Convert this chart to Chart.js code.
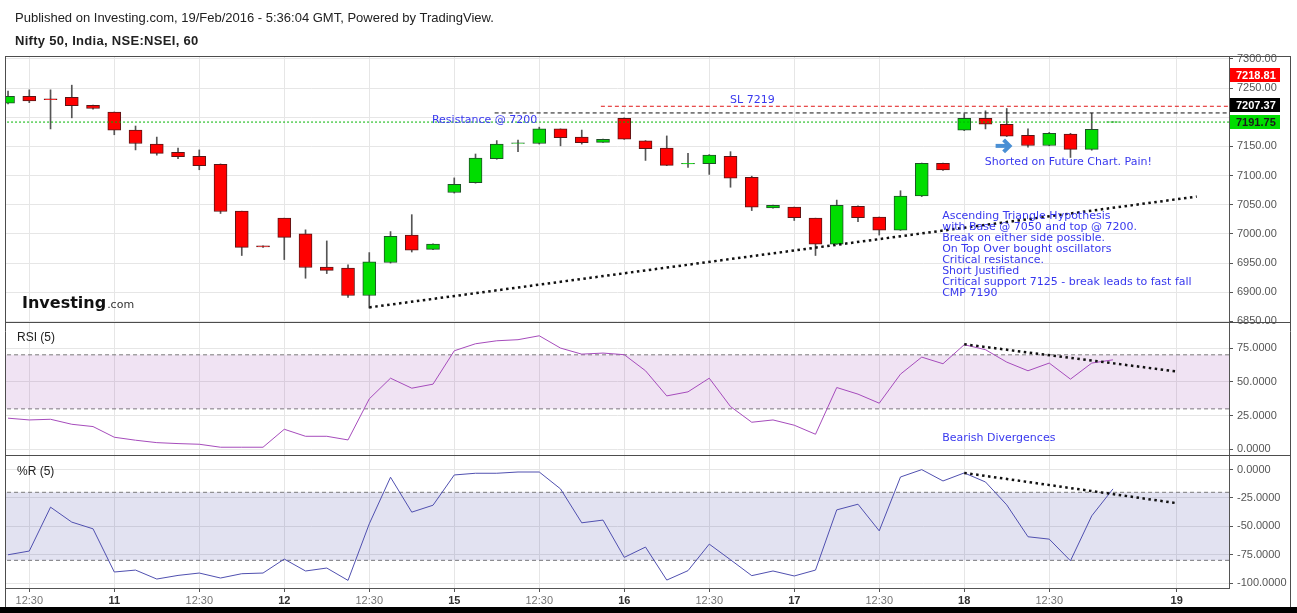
<!DOCTYPE html>
<html>
<head>
<meta charset="utf-8">
<title>Nifty 50, India, NSE:NSEI, 60</title>
<script src="https://cdn.jsdelivr.net/npm/chart.js@4.4.1/dist/chart.umd.min.js"></script>
<style>
  html, body { margin: 0; padding: 0; background: #fff; }
  #wrap { position: relative; width: 1297px; height: 613px; overflow: hidden; }
  #chart { position: absolute; left: 0; top: 0; }
  .hdr { position: absolute; left: 15px; font-family: "Liberation Sans", Arial, sans-serif; color: #222; white-space: nowrap; line-height: 16px; }
  #pub { top: 10px; font-size: 13px; }
  #ttl { top: 33px; font-size: 13px; font-weight: bold; letter-spacing: 0.3px; }
</style>
</head>
<body>
<div id="wrap">
  <canvas id="chart" width="1297" height="613"></canvas>
  <div class="hdr" id="pub">Published on Investing.com, 19/Feb/2016 - 5:36:04 GMT, Powered by TradingView.</div>
  <div class="hdr" id="ttl">Nifty 50, India, NSE:NSEI, 60</div>
</div>
<script>
// hourly candles, bar 0 = 12:30 on the 10th, 8 slots per session
const opens  = [7224, 7236, 7231.5, 7234, 7220.5, 7209, 7178, 7154, 7140, 7133, 7119.5, 7039, 6979.5, 7027, 7000, 6943, 6941.5, 6894.5, 6951, 6998, 6973.5,
                7071, 7088, 7129, 7155, 7155, 7180, 7166, 7157, 7198, 7159.5, 7147, 7120, 7120.5, 7133, 7097, 7044.5, 7046, 7027, 6982.5, 7047.5,
                7029, 7006.5, 7065, 7121, 7178, 7198, 7188, 7169, 7151.5, 7171, 7145, 7191.5];
const highs  = [7245, 7247, 7247, 7255, 7221, 7209, 7185, 7166, 7147, 7144, 7120, 7039, 6979.5, 7027, 7007, 6988, 6947, 6968, 7004, 7033, 6983,
                7096, 7137, 7160, 7161, 7183, 7180, 7178, 7162.5, 7199, 7160, 7168, 7138, 7136, 7141, 7099, 7049.5, 7046, 7027, 7058, 7048,
                7029, 7074, 7121.5, 7121.5, 7206, 7211, 7215, 7180, 7174, 7172.5, 7207, 7192];
const lows   = [7223, 7225, 7180, 7199, 7214, 7170, 7144, 7135, 7129, 7110, 7035, 6963, 6977, 6956, 6924, 6932, 6891, 6873, 6950, 6969, 6973,
                7070, 7087, 7128, 7141, 7154, 7151, 7154, 7157, 7162, 7126, 7117, 7114, 7102, 7080, 7040, 7044, 7023, 6963, 6982, 7021,
                6998, 7006, 7064, 7109, 7177, 7180, 7167, 7148.5, 7151, 7131, 7143.5, 7191.5];
const closes = [7236, 7228, 7230, 7220, 7215, 7178, 7155, 7138, 7132.5, 7117, 7038.5, 6977, 6977.5, 6994, 6942.5, 6937.5, 6894.5, 6952, 6996, 6972, 6982.5,
                7085, 7130, 7154, 7156, 7180, 7165, 7156.5, 7162, 7162.5, 7146, 7117.5, 7121, 7135, 7095.5, 7046, 7049, 7028, 6982.5, 7049, 7028,
                7006.5, 7065, 7121, 7109.5, 7198, 7188, 7167.5, 7151.5, 7172.5, 7145, 7179.5, 7192];
const rsiVals = [23.1, 21.8, 22.3, 18.6, 16.9, 9.0, 6.8, 5.0, 4.3, 3.8, 1.6, 1.6, 1.6, 14.9, 9.7, 9.7, 7.0, 37.4, 52.7, 45.3, 48.3,
                 73.0, 78.2, 80.4, 81.2, 84.1, 75.0, 70.5, 71.3, 70.1, 58.2, 39.6, 42.6, 52.7, 31.7, 20.1, 21.8, 17.9, 11.2, 45.8, 40.9,
                 34.2, 55.7, 68.3, 63.4, 77.5, 73.8, 64.6, 58.2, 63.9, 52.0, 63.9, 66.3];
const wrVals  = [-75.1, -71.8, -33.1, -46.3, -52.2, -90.3, -88.6, -96.5, -93.3, -91.2, -95.6, -91.8, -91.2, -78.9, -89.4, -86.8, -97.7, -47.8, -6.7, -37.5, -31.4,
                 -4.7, -3.2, -3.2, -2.1, -2.1, -17.0, -46.9, -44.5, -77.4, -68.3, -97.4, -89.1, -65.7, -79.5, -93.5, -89.4, -93.8, -88.6, -35.5, -30.5,
                 -54.0, -6.5, 0, -10.0, -2.9, -10.9, -31.1, -59.2, -61.3, -80.4, -40.8, -17.0];
const firstBar = -1;

const timeTickPos    = [0, 4, 8, 12, 16, 20, 24, 28, 32, 36, 40, 44, 48, 54];
const timeTickLabels = ['12:30', '11', '12:30', '12', '12:30', '15', '12:30', '16', '12:30', '17', '12:30', '18', '12:30', '19'];
const priceTicks = [6850, 6900, 6950, 7000, 7050, 7100, 7150, 7200, 7250, 7300];
const rsiTicks   = [0, 25, 50, 75];
const wrTicks    = [0, -25, -50, -75, -100];
const rsiBand = [70, 30];
const wrBand  = [-20, -80];

// drawn levels and trend lines (bar index, value)
const lastPrice = 7191.75;
const resistanceLevel = 7207.37, resistanceFrom = 21.9;
const stopLevel = 7218.81, stopFrom = 26.9;
const priceTrend = [[16, 6874], [54.94, 7064]];
const rsiTrend   = [[44, 77.8], [54, 57.7]];
const wrTrend    = [[44, -2.9], [54, -29.6]];

const bars = opens.map((_, i) => firstBar + i);
const isUp = opens.map((o, i) => closes[i] >= o);
const pts = (vals) => vals.map((v, i) => ({ x: bars[i], y: v }));
const seg = (pair) => pair.map(p => ({ x: p[0], y: p[1] }));
const level = (v, from) => [{ x: from, y: v }, { x: 70, y: v }];
const lineBase = { type: 'line', pointRadius: 0, borderWidth: 1, tension: 0, fill: false };
const labelAt = v => { const k = timeTickPos.indexOf(v); return k < 0 ? '' : timeTickLabels[k]; };
const isDay = c => c.tick && labelAt(c.tick.value) !== '12:30';

const blue = '#3838ee';
const notes = [
  { x: 18.95, y: 7195.4, text: 'Resistance @ 7200', align: 'left' },
  { x: 34.03, y: 7229.6, text: 'SL 7219', align: 'center' },
  { x: 44.97, y: 7122.3, text: 'Shorted on Future Chart. Pain!', align: 'left' }
];
const blockLines = ['Ascending Triangle Hypothesis', 'with Base @ 7050 and top @ 7200.', 'Break on either side possible.',
  'On Top Over bought oscillators', 'Critical resistance.', 'Short Justified',
  'Critical support 7125 - break leads to fast fall', 'CMP 7190'];
const priceTags = [
  { value: stopLevel, shift: -31, bg: '#ff0000', fg: '#ffffff' },
  { value: resistanceLevel, shift: -8, bg: '#000000', fg: '#ffffff' },
  { value: lastPrice, shift: 0, bg: '#00dd00', fg: '#1a1a1a' }
];

const overlay = {
  id: 'overlay',
  beforeDraw(chart) {
    const c = chart.ctx;
    c.save(); c.fillStyle = '#fff'; c.fillRect(0, 0, chart.width, chart.height); c.restore();
  },
  afterDraw(chart) {
    const c = chart.ctx, a = chart.chartArea, s = chart.scales;
    const X = v => s.x.getPixelForValue(v);
    const P = v => s.y.getPixelForValue(v);
    const frameR = a.right + s.y.width;
    const bottom = chart.height - 6;
    c.save();

    // frame and pane separators
    c.strokeStyle = '#4d4d4d'; c.lineWidth = 1;
    c.beginPath();
    [a.top, s.y.bottom, s.rsi.bottom].forEach(yy => {
      const py = Math.round(yy) + 0.5; c.moveTo(a.left, py); c.lineTo(frameR, py);
    });
    c.moveTo(Math.round(a.left) - 0.5, a.top); c.lineTo(Math.round(a.left) - 0.5, bottom);
    c.moveTo(Math.round(frameR) + 0.5, a.top); c.lineTo(Math.round(frameR) + 0.5, bottom);
    c.stroke();
    c.fillStyle = '#000'; c.fillRect(0, bottom, chart.width, 6);

    // price tags on the axis (tick labels squeezed between tags are hidden)
    c.textBaseline = 'middle'; c.textAlign = 'left';
    c.font = 'bold 11px "Liberation Sans"';
    const tagY = priceTags.map(t => Math.round(P(t.value) + t.shift));
    for (let i = 1; i < tagY.length; i++) {
      if (tagY[i] - tagY[i - 1] < 28) {
        c.fillStyle = '#fff'; c.fillRect(a.right + 1, tagY[i - 1] + 7, 58, tagY[i] - tagY[i - 1] - 14);
      }
    }
    priceTags.forEach((t, i) => {
      const py = tagY[i];
      c.fillStyle = t.bg; c.fillRect(a.right + 1, py - 7, 50, 14);
      c.fillStyle = t.fg; c.fillText(t.value.toFixed(2), a.right + 7, py + 0.5);
    });

    // notes
    c.font = '11px "DejaVu Sans"'; c.fillStyle = blue;
    notes.forEach(n => { c.textAlign = n.align; c.fillText(n.text, X(n.x), P(n.y)); });
    c.textAlign = 'left';
    blockLines.forEach((t, i) => c.fillText(t, X(42.96), P(7029.8) + i * 11));
    c.fillText('Bearish Divergences', X(42.96), s.rsi.getPixelForValue(8.5));

    // arrow
    const ax = X(45.9), ay = P(7150.9);
    c.strokeStyle = '#4a8fd4'; c.lineWidth = 4; c.lineCap = 'butt'; c.lineJoin = 'miter';
    c.beginPath(); c.moveTo(ax - 9, ay); c.lineTo(ax + 4, ay); c.stroke();
    c.beginPath(); c.moveTo(ax - 1, ay - 6); c.lineTo(ax + 5, ay); c.lineTo(ax - 1, ay + 6); c.stroke();

    // pane titles
    c.fillStyle = '#222'; c.font = '12px "Liberation Sans"';
    c.fillText('RSI (5)', a.left + 11, s.rsi.top + 16);
    c.fillText('%R (5)', a.left + 11, s.wr.top + 17);

    // logo
    c.textBaseline = 'alphabetic';
    c.font = 'bold 16px "DejaVu Sans"'; c.fillStyle = '#111';
    c.fillText('Investing', a.left + 16, s.y.bottom - 14);
    const w = c.measureText('Investing').width;
    c.font = '11px "DejaVu Sans"'; c.fillStyle = '#333';
    c.fillText('.com', a.left + 17 + w, s.y.bottom - 14);
    c.restore();
  }
};

const yAxis = (extra) => Object.assign({
  position: 'right', stack: 'panes',
  grid: { color: '#e6e6e6', tickLength: 4, tickColor: '#555' },
  border: { color: '#555' },
  afterFit: sc => { sc.width = 61; }
}, extra);
const yTicks = (fmt) => ({ color: '#555', padding: 4, font: { size: 11 }, autoSkip: false, callback: fmt });

Chart.defaults.font.family = '"Liberation Sans", Arial, sans-serif';

new Chart(document.getElementById('chart'), {
  type: 'bar',
  data: {
    datasets: [
      { type: 'bar', data: opens.map((o, i) => ({ x: bars[i], y: [lows[i], highs[i]] })), yAxisID: 'y',
        backgroundColor: '#555', barThickness: 1, grouped: false, order: 9 },
      { type: 'bar', data: opens.map((o, i) => ({ x: bars[i], y: [o, closes[i]] })), yAxisID: 'y',
        backgroundColor: isUp.map(u => u ? '#00dd00' : '#ff0000'),
        borderColor: isUp.map(u => u ? '#1f4f28' : '#5a1616'),
        borderWidth: 1, borderSkipped: false, barThickness: 13, grouped: false, order: 8 },
      { ...lineBase, data: level(lastPrice, -5), yAxisID: 'y', borderColor: '#00b400', borderDash: [2, 2], order: 3 },
      { ...lineBase, data: level(resistanceLevel, resistanceFrom), yAxisID: 'y', borderColor: '#111', borderDash: [4, 3], order: 3 },
      { ...lineBase, data: level(stopLevel, stopFrom), yAxisID: 'y', borderColor: '#e01818', borderDash: [4, 3], order: 3 },
      { ...lineBase, data: seg(priceTrend), yAxisID: 'y', borderColor: '#111', borderWidth: 2.5, borderDash: [2.5, 3.5], order: 1 },

      { ...lineBase, data: level(rsiBand[0], -5), yAxisID: 'rsi', borderColor: '#7a7a7a', borderDash: [4, 3],
        fill: '+1', backgroundColor: 'rgba(150, 60, 170, 0.14)', order: 7 },
      { ...lineBase, data: level(rsiBand[1], -5), yAxisID: 'rsi', borderColor: '#7a7a7a', borderDash: [4, 3], order: 7 },
      { ...lineBase, data: pts(rsiVals), yAxisID: 'rsi', borderColor: '#a64cbc', order: 2 },
      { ...lineBase, data: seg(rsiTrend), yAxisID: 'rsi', borderColor: '#111', borderWidth: 2.5, borderDash: [2.5, 3.5], order: 1 },

      { ...lineBase, data: level(wrBand[0], -5), yAxisID: 'wr', borderColor: '#7a7a7a', borderDash: [4, 3],
        fill: '+1', backgroundColor: 'rgba(60, 60, 160, 0.15)', order: 7 },
      { ...lineBase, data: level(wrBand[1], -5), yAxisID: 'wr', borderColor: '#7a7a7a', borderDash: [4, 3], order: 7 },
      { ...lineBase, data: pts(wrVals), yAxisID: 'wr', borderColor: '#5050b0', order: 2 },
      { ...lineBase, data: seg(wrTrend), yAxisID: 'wr', borderColor: '#111', borderWidth: 2.5, borderDash: [2.5, 3.5], order: 1 }
    ]
  },
  options: {
    responsive: false,
    animation: false,
    events: [],
    layout: { padding: { left: 6, top: 56, right: 7, bottom: 6 } },
    plugins: { legend: { display: false }, tooltip: { enabled: false } },
    scales: {
      x: {
        type: 'linear', min: -1.096, max: 56.46, offset: false,
        grid: { color: '#e6e6e6', tickLength: 4, tickColor: '#555', offset: false },
        border: { color: '#555' },
        ticks: {
          autoSkip: false, maxRotation: 0, padding: 2,
          font: c => ({ size: 11, weight: isDay(c) ? 'bold' : 'normal' }),
          color: c => isDay(c) ? '#333' : '#777',
          callback: v => labelAt(v)
        },
        afterBuildTicks: sc => { sc.ticks = timeTickPos.map(v => ({ value: v })); },
        afterFit: sc => { sc.height = 19; }
      },
      y: yAxis({
        stackWeight: 266, min: 6849, max: 7305,
        afterBuildTicks: sc => { sc.ticks = priceTicks.map(v => ({ value: v })); },
        ticks: yTicks(v => v.toFixed(2))
      }),
      rsi: yAxis({
        stackWeight: 133, min: -4.15, max: 94.3,
        afterBuildTicks: sc => { sc.ticks = rsiTicks.map(v => ({ value: v })); },
        ticks: yTicks(v => v.toFixed(4))
      }),
      wr: yAxis({
        stackWeight: 133, min: -104.4, max: 12.9,
        afterBuildTicks: sc => { sc.ticks = wrTicks.map(v => ({ value: v })); },
        ticks: yTicks(v => v.toFixed(4))
      })
    }
  },
  plugins: [overlay]
});
</script>
</body>
</html>
